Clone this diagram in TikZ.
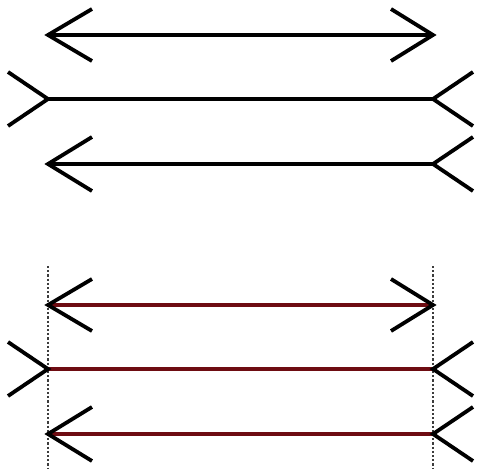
\documentclass[tikz,border=0pt]{standalone}
\usetikzlibrary{calc}
\definecolor{shaftred}{RGB}{110,12,18}
\definecolor{guide}{RGB}{60,60,60}
\tikzset{
  arm/.style={line width=3.8pt, black, line cap=butt, line join=miter},
  shaft/.style={line width=3.5pt, black},
  redshaft/.style={line width=3.3pt, shaftred},
  guideline/.style={line width=1.2pt, guide, dash pattern=on 2.2pt off 2pt}
}
\begin{document}
\begin{tikzpicture}[x=1pt,y=-1pt]
\useasboundingbox (0,0) rectangle (478,470);
% top group
\foreach \n/\y in {a/35,b/99,c/164}{
  \coordinate (L\n) at (48,\y);
  \coordinate (R\n) at (433,\y);
}
\draw[shaft] (La) -- (Ra);
\draw[shaft] (Lb) -- (Rb);
\draw[shaft] (Lc) -- (Rc);
% row a: inward heads <-->
\draw[arm] ($(La)+(44,-26)$) -- (La) -- ($(La)+(44,26)$);
\draw[arm] ($(Ra)+(-42,-26)$) -- (Ra) -- ($(Ra)+(-42,26)$);
% row b: >--<
\draw[arm] ($(Lb)+(-40,-27)$) -- (Lb) -- ($(Lb)+(-40,27)$);
\draw[arm] ($(Rb)+(40,-27)$) -- (Rb) -- ($(Rb)+(40,27)$);
% row c: <--<
\draw[arm] ($(Lc)+(44,-27)$) -- (Lc) -- ($(Lc)+(44,27)$);
\draw[arm] ($(Rc)+(40,-27)$) -- (Rc) -- ($(Rc)+(40,27)$);
% bottom group
\foreach \n/\y in {d/305,e/369,f/434}{
  \coordinate (L\n) at (48,\y);
  \coordinate (R\n) at (433,\y);
}
\coordinate (GLt) at (48,266);
\coordinate (GLb) at (48,468);
\coordinate (GRt) at (433,266);
\coordinate (GRb) at (433,468);
\draw[guideline] (GLt) -- (GLb);
\draw[guideline] (GRt) -- (GRb);
\draw[redshaft] (Ld) -- (Rd);
\draw[redshaft] (Le) -- (Re);
\draw[redshaft] (Lf) -- (Rf);
\draw[arm] ($(Ld)+(44,-26)$) -- (Ld) -- ($(Ld)+(44,26)$);
\draw[arm] ($(Rd)+(-42,-26)$) -- (Rd) -- ($(Rd)+(-42,26)$);
\draw[arm] ($(Le)+(-40,-27)$) -- (Le) -- ($(Le)+(-40,27)$);
\draw[arm] ($(Re)+(40,-27)$) -- (Re) -- ($(Re)+(40,27)$);
\draw[arm] ($(Lf)+(44,-27)$) -- (Lf) -- ($(Lf)+(44,27)$);
\draw[arm] ($(Rf)+(40,-27)$) -- (Rf) -- ($(Rf)+(40,27)$);
\end{tikzpicture}
\end{document}
